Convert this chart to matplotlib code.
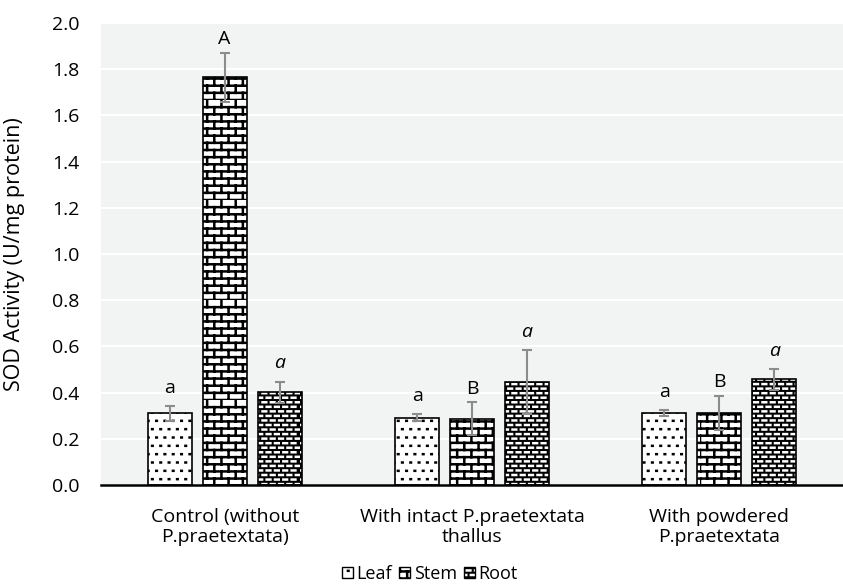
import warnings
warnings.filterwarnings("ignore")
import numpy as np
import matplotlib
matplotlib.use("Agg")
import matplotlib.pyplot as plt
import matplotlib.hatch as mhatch
from matplotlib.path import Path
from matplotlib.patches import Patch

# ---------------- data ----------------
categories = ["Control (without\nP.praetextata)",
              "With intact P.praetextata\nthallus",
              "With powdered\nP.praetextata"]
series = ["Leaf", "Stem", "Root"]
leaf = [0.310, 0.291, 0.310]
leaf_err = [0.031, 0.015, 0.013]
stem = [1.765, 0.287, 0.313]
stem_err = [0.106, 0.071, 0.074]
root = [0.401, 0.447, 0.458]
root_err = [0.047, 0.138, 0.045]
leaf_labels = ["a", "a", "a"]
stem_labels = ["A", "B", "B"]
root_labels = ["a", "a", "a"]
yticks = [0.0, 0.2, 0.4, 0.6, 0.8, 1.0, 1.2, 1.4, 1.6, 1.8, 2.0]

# ---------------- custom hatches ----------------
class DotHatch(mhatch.HatchPatternBase):
    def __init__(self, hatch, density):
        self.on = hatch.count('L') > 0
        self.nrows = 12
        self.ncols = 12
        self.num_vertices = (self.nrows * self.ncols * 2) if self.on else 0

    def set_vertices_and_codes(self, vertices, codes):
        k = 0
        for i in range(self.nrows):
            y = (i + 0.5) / self.nrows
            off = 0.5 * (i % 2)
            for j in range(self.ncols):
                xx = (j + off + 0.25) / self.ncols
                vertices[k] = (xx, y); codes[k] = Path.MOVETO; k += 1
                vertices[k] = (xx + 0.006, y); codes[k] = Path.LINETO; k += 1


class BrickHatch(mhatch.HatchPatternBase):
    def __init__(self, hatch, density):
        self.on = hatch.count('B') > 0
        self.nrows = 14
        self.ncols = 7
        self.num_vertices = (self.nrows * 2 + self.nrows * self.ncols * 2) if self.on else 0

    def set_vertices_and_codes(self, vertices, codes):
        k = 0
        for i in range(self.nrows):
            y0 = i / self.nrows
            y1 = (i + 1) / self.nrows
            vertices[k] = (0, y0); codes[k] = Path.MOVETO; k += 1
            vertices[k] = (1, y0); codes[k] = Path.LINETO; k += 1
            off = 0.5 * (i % 2)
            for j in range(self.ncols):
                xx = (j + off) / self.ncols
                vertices[k] = (xx, y0); codes[k] = Path.MOVETO; k += 1
                vertices[k] = (xx, y1); codes[k] = Path.LINETO; k += 1


class DashHatch(mhatch.HatchPatternBase):
    def __init__(self, hatch, density):
        self.on = hatch.count('R') > 0
        self.nrows = 22
        self.ncols = 12
        self.num_vertices = (self.nrows * self.ncols * 2) if self.on else 0

    def set_vertices_and_codes(self, vertices, codes):
        k = 0
        for i in range(self.nrows):
            y = (i + 0.5) / self.nrows
            off = 0.5 * (i % 2)
            for j in range(self.ncols):
                x0 = (j + off) / self.ncols
                x1 = x0 + 0.45 / self.ncols
                vertices[k] = (x0, y); codes[k] = Path.MOVETO; k += 1
                vertices[k] = (min(x1, 1.0), y); codes[k] = Path.LINETO; k += 1


mhatch._hatch_types.append(DotHatch)
mhatch._hatch_types.append(BrickHatch)
mhatch._hatch_types.append(DashHatch)

plt.rcParams['font.family'] = ['Open Sans', 'DejaVu Sans']
plt.rcParams['hatch.linewidth'] = 1.8

BG = '#f2f4f4'
ERR = '#8c8c8c'

fig = plt.figure(figsize=(8.43, 5.84), dpi=100)
ax = fig.add_axes([101 / 843, 99 / 584, 742 / 843, 462 / 584])
ax.set_facecolor(BG)

x = np.arange(len(categories))
w = 0.178
pitch = 0.222

err_kw = dict(ecolor=ERR, elinewidth=1.5, capsize=3.6, capthick=1.5)

ax.bar(x - pitch, leaf, w, color='white', edgecolor='black',
       linewidth=1.2, hatch='L', zorder=3)
ax.errorbar(x - pitch, leaf, yerr=leaf_err, fmt='none', zorder=4, **err_kw)

ax.bar(x, stem, w, color='white', edgecolor='black',
       linewidth=1.2, hatch='B', zorder=3)
ax.errorbar(x, stem, yerr=stem_err, fmt='none', zorder=4, **err_kw)

ax.bar(x + pitch, root, w, color='black', edgecolor='white',
       linewidth=0, hatch='R', zorder=3)
ax.bar(x + pitch, root, w, fill=False, edgecolor='black',
       linewidth=1.2, zorder=3.1)
ax.errorbar(x + pitch, root, yerr=root_err, fmt='none', zorder=4, **err_kw)

fs = 14
for xi, v, e, t in zip(x - pitch, leaf, leaf_err, leaf_labels):
    ax.annotate(t, (xi, v + e), xytext=(0, 9.4), textcoords='offset points',
                ha='center', va='baseline', fontsize=fs)
for xi, v, e, t in zip(x, stem, stem_err, stem_labels):
    ax.annotate(t, (xi, v + e), xytext=(0, 6), textcoords='offset points',
                ha='center', va='baseline', fontsize=fs)
for xi, v, e, t in zip(x + pitch, root, root_err, root_labels):
    ax.annotate(t, (xi, v + e), xytext=(0, 9.5), textcoords='offset points',
                ha='center', va='baseline', fontsize=fs, style='italic')

ax.set_xlim(-0.5, 2.5)
ax.set_ylim(0, 2.0)
ax.set_yticks(yticks)
ax.set_yticklabels([f"{t:.1f}" for t in yticks])
ax.set_xticks(x)
ax.set_xticklabels(categories, fontsize=fs, linespacing=1.15)
ax.tick_params(axis='y', length=0, pad=15.5, labelsize=fs)
ax.tick_params(axis='x', length=0, pad=16.5)
ax.grid(axis='y', color='white', linewidth=1.5, zorder=0)
ax.set_axisbelow(True)
for s in ['left', 'right', 'top']:
    ax.spines[s].set_visible(False)
ax.spines['bottom'].set_color('black')
ax.spines['bottom'].set_linewidth(1.8)
ax.spines['bottom'].set_zorder(5)

ax.set_ylabel("SOD Activity (U/mg protein)", fontsize=15.5, va='center')
ax.yaxis.set_label_coords(-86 / 742, 0.5)

h_leaf = Patch(facecolor='white', edgecolor='black', hatch='L', linewidth=1)
h_stem = Patch(facecolor='white', edgecolor='black', hatch='B', linewidth=1)
h_root1 = Patch(facecolor='black', edgecolor='white', hatch='R', linewidth=0)
h_root2 = Patch(fill=False, edgecolor='black', linewidth=1)
fig.legend([h_leaf, h_stem, (h_root1, h_root2)], series, loc='center',
           bbox_to_anchor=(430 / 843, 1 - 574 / 584), ncol=3, frameon=False,
           fontsize=13, handlelength=0.6, handleheight=0.6, handletextpad=0.2,
           columnspacing=0.4, borderpad=0)

fig.savefig("out.png", dpi=100, facecolor='white')
